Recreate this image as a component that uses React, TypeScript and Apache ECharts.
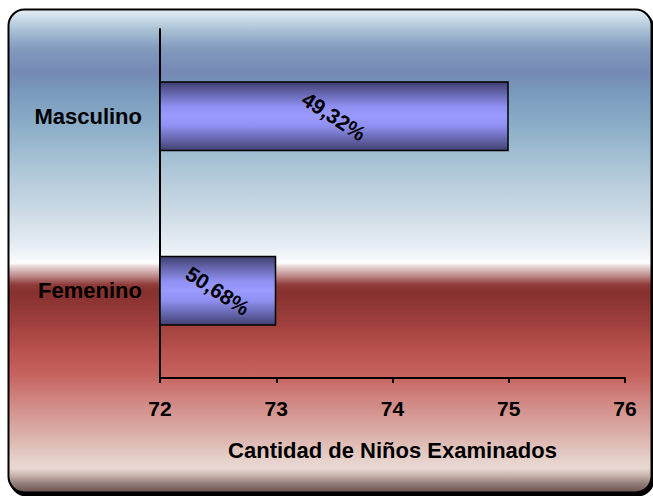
import React, { useEffect, useRef } from "react";
import * as echarts from "echarts";

const categories = ["Masculino", "Femenino"];
const counts = [75, 73];
const shareLabels = ["49,32%", "50,68%"];
const xTicks = { min: 72, max: 76, interval: 1 };
const axisTitle = "Cantidad de Niños Examinados";

const FONT = "'Liberation Sans', Arial, sans-serif";

// panel background bands, top to bottom
const panelStops: [number, string][] = [
  [0, "#e4edf5"],
  [0.019, "#cbdbe8"],
  [0.043, "#a8c0d4"],
  [0.083, "#8099bd"],
  [0.13, "#7489b4"],
  [0.178, "#7b9cbe"],
  [0.25, "#8fb0c9"],
  [0.333, "#aec7d8"],
  [0.415, "#cbd9e5"],
  [0.488, "#e6edf3"],
  [0.525, "#fbfcfd"],
  [0.531, "#eadada"],
  [0.55, "#c09090"],
  [0.57, "#8f3b39"],
  [0.585, "#85302e"],
  [0.643, "#9c3e3b"],
  [0.705, "#b9524e"],
  [0.756, "#c6625e"],
  [0.808, "#d08581"],
  [0.876, "#dbaea8"],
  [0.936, "#e7d3cd"],
  [0.95, "#e9d9d3"],
  [0.965, "#c7b2ac"],
  [0.981, "#94807b"],
  [1, "#6a524e"],
];

const barFill = new echarts.graphic.LinearGradient(0, 0, 0, 1, [
  { offset: 0, color: "#3f3f70" },
  { offset: 0.12, color: "#5c5c9e" },
  { offset: 0.36, color: "#9090f2" },
  { offset: 0.5, color: "#9a9aff" },
  { offset: 0.64, color: "#9090f2" },
  { offset: 0.88, color: "#5c5c9e" },
  { offset: 1, color: "#40406f" },
]);

export default function App() {
  const ref = useRef<HTMLDivElement>(null);

  useEffect(() => {
    document.body.style.margin = "0";
    if (!ref.current) return;
    const chart = echarts.init(ref.current, undefined, { renderer: "svg" });
    chart.setOption({
      animation: false,
      backgroundColor: "#ffffff",
      graphic: [
        {
          type: "rect",
          z: -10,
          silent: true,
          shape: { x: 8.5, y: 9.5, width: 643, height: 483, r: 16 },
          style: {
            fill: new echarts.graphic.LinearGradient(
              0,
              0,
              0,
              1,
              panelStops.map(([offset, color]) => ({ offset, color }))
            ),
            stroke: "#000000",
            lineWidth: 2,
            shadowColor: "#000000",
            shadowOffsetX: 2,
            shadowOffsetY: 3,
            shadowBlur: 0,
          },
        },
      ],
      grid: { left: 160, right: 28, top: 29, bottom: 118 },
      xAxis: {
        type: "value",
        min: xTicks.min,
        max: xTicks.max,
        interval: xTicks.interval,
        axisLine: { show: true, lineStyle: { color: "#000", width: 2 } },
        axisTick: { show: true, length: 5, lineStyle: { color: "#000", width: 2 } },
        splitLine: { show: false },
        axisLabel: {
          color: "#000",
          fontFamily: FONT,
          fontWeight: "bold",
          fontSize: 21,
          margin: 20,
        },
        name: axisTitle,
        nameLocation: "middle",
        nameGap: 61,
        nameTextStyle: {
          color: "#000",
          fontFamily: FONT,
          fontWeight: "bold",
          fontSize: 22,
        },
      },
      yAxis: {
        type: "category",
        data: categories,
        inverse: true,
        axisLine: { show: true, lineStyle: { color: "#000", width: 2 } },
        axisTick: { show: false },
        axisLabel: {
          color: "#000",
          fontFamily: FONT,
          fontWeight: "bold",
          fontSize: 22,
          margin: 18,
        },
      },
      series: [
        {
          type: "bar",
          data: counts,
          barCategoryGap: "60%",
          itemStyle: {
            color: barFill,
            borderColor: "#000",
            borderWidth: 1.5,
          },
          label: {
            show: true,
            position: "inside",
            rotate: -33,
            color: "#000",
            fontFamily: FONT,
            fontWeight: "bold",
            fontSize: 21,
            formatter: (p: { dataIndex: number }) => shareLabels[p.dataIndex],
          },
        },
      ],
    });
    return () => chart.dispose();
  }, []);

  return <div ref={ref} style={{ width: 653, height: 496 }} />;
}
